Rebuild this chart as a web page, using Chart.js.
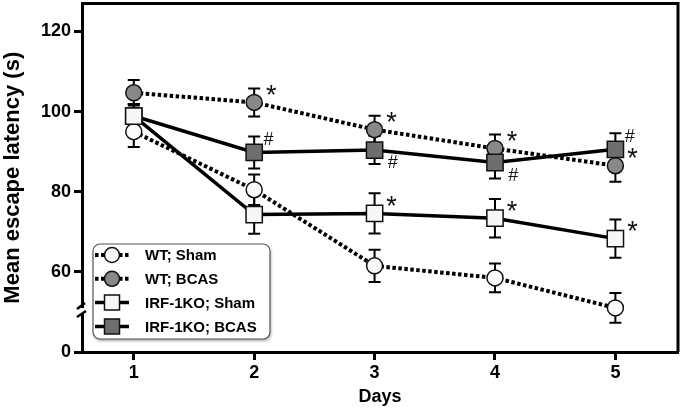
<!DOCTYPE html>
<html>
<head>
<meta charset="utf-8">
<script src="https://cdn.jsdelivr.net/npm/chart.js@4/dist/chart.umd.min.js"></script>
<style>
  body { margin: 0; background: #fff; }
  #chart { display: block; }
</style>
</head>
<body>
<canvas id="chart" width="685" height="410"></canvas>
<script>
// days on the x axis
const days = [1, 2, 3, 4, 5];

// mean escape latency (s) and SEM per group
const wtSham = [95.0, 80.5, 61.5, 58.5, 51.0];
const wtShamSem = [3.8, 3.8, 4.0, 3.6, 3.7];
const wtBcas = [104.7, 102.3, 95.5, 90.8, 86.5];
const wtBcasSem = [3.2, 3.5, 3.5, 3.5, 4.0];
const koSham = [98.9, 74.3, 74.6, 73.4, 68.3];
const koShamSem = [3.0, 4.8, 5.0, 4.8, 4.8];
const koBcas = [98.9, 89.8, 90.4, 87.3, 90.6];
const koBcasSem = [3.0, 4.0, 3.5, 4.0, 4.0];

// significance marks next to points
const wtBcasSig = ['', '*', '*', '*', '*'];
const koShamSig = ['', '', '*', '*', '*'];
const koBcasSig = ['', '#', '#', '#', '#'];
const koBcasSigSide = ['', 'up', 'down', 'down', 'up'];

// y axis is broken: the bottom tick (drawn at 40) reads 0
const yTicks = [40, 60, 80, 100, 120];
const yTickLabels = ['0', '60', '80', '100', '120'];

const FONT = '"Liberation Sans", Arial, sans-serif';

function pts(values) {
    return values.map((v, i) => ({ x: days[i], y: v }));
}

const datasets = [
    {
        label: 'WT; Sham', data: pts(wtSham), sem: wtShamSem, order: 4,
        borderColor: '#000', borderWidth: 4, borderDash: [3.5, 2.5],
        pointStyle: 'circle', pointRadius: 8, pointBorderWidth: 1.5,
        pointBackgroundColor: '#fafafa', pointBorderColor: '#111'
    },
    {
        label: 'WT; BCAS', data: pts(wtBcas), sem: wtBcasSem, sig: wtBcasSig, order: 3,
        borderColor: '#000', borderWidth: 4, borderDash: [3.5, 2.5],
        pointStyle: 'circle', pointRadius: 8, pointBorderWidth: 1.5,
        pointBackgroundColor: '#888888', pointBorderColor: '#111'
    },
    {
        label: 'IRF-1KO; Sham', data: pts(koSham), sem: koShamSem, sig: koShamSig, order: 1,
        borderColor: '#000', borderWidth: 3.5,
        pointStyle: 'rect', pointRadius: 11.5, pointBorderWidth: 1.5,
        pointBackgroundColor: '#f7f7f7', pointBorderColor: '#111'
    },
    {
        label: 'IRF-1KO; BCAS', data: pts(koBcas), sem: koBcasSem, sig: koBcasSig, sigSide: koBcasSigSide, order: 2,
        borderColor: '#000', borderWidth: 3.5,
        pointStyle: 'rect', pointRadius: 11.5, pointBorderWidth: 1.5,
        pointBackgroundColor: '#6e6e6e', pointBorderColor: '#111'
    }
];
datasets.forEach(d => { d.tension = 0; d.fill = false; });

// error bars, drawn under the lines and markers
const errorBars = {
    id: 'errorBars',
    beforeDatasetsDraw(chart) {
        const ctx = chart.ctx;
        const y = chart.scales.y;
        ctx.save();
        ctx.strokeStyle = '#000';
        ctx.lineWidth = 2;
        chart.data.datasets.forEach((ds, di) => {
            const meta = chart.getDatasetMeta(di);
            meta.data.forEach((pt, i) => {
                const v = ds.data[i].y, e = ds.sem[i];
                const top = y.getPixelForValue(v + e);
                const bot = y.getPixelForValue(v - e);
                ctx.beginPath();
                ctx.moveTo(pt.x, top); ctx.lineTo(pt.x, bot);
                ctx.moveTo(pt.x - 6, top); ctx.lineTo(pt.x + 6, top);
                ctx.moveTo(pt.x - 6, bot); ctx.lineTo(pt.x + 6, bot);
                ctx.stroke();
            });
        });
        ctx.restore();
    }
};

// frame, axis break, significance marks and the inset legend
const decorations = {
    id: 'decorations',
    afterDraw(chart) {
        const ctx = chart.ctx;
        const a = chart.chartArea;
        ctx.save();

        // box around the plot
        ctx.strokeStyle = '#000';
        ctx.lineWidth = 3;
        ctx.beginPath();
        ctx.moveTo(a.left, a.top); ctx.lineTo(a.right, a.top); ctx.lineTo(a.right, a.bottom);
        ctx.stroke();

        // axis break on the y axis
        const by = 311;
        ctx.fillStyle = '#fff';
        ctx.fillRect(a.left - 3, by - 3, 6, 6);
        ctx.lineWidth = 2.5;
        ctx.beginPath();
        ctx.moveTo(a.left - 5, by - 2); ctx.lineTo(a.left + 3, by - 8);
        ctx.moveTo(a.left - 5, by + 6); ctx.lineTo(a.left + 4, by);
        ctx.stroke();

        // significance marks
        ctx.fillStyle = '#111';
        ctx.textAlign = 'center';
        ctx.textBaseline = 'middle';
        chart.data.datasets.forEach((ds, di) => {
            if (!ds.sig) return;
            const meta = chart.getDatasetMeta(di);
            meta.data.forEach((pt, i) => {
                const s = ds.sig[i];
                if (!s) return;
                if (s === '*') {
                    ctx.font = '27px ' + FONT;
                    ctx.fillText('*', pt.x + 17, pt.y - 6);
                } else {
                    ctx.font = 'italic 18px ' + FONT;
                    const down = ds.sigSide && ds.sigSide[i] === 'down';
                    ctx.fillText('#', pt.x + (down ? 18 : 14), pt.y + (down ? 13 : -12));
                }
            });
        });

        // legend box
        const lx = a.left + 11, ly = a.bottom - 108, lw = 177, lh = 95;
        ctx.save();
        ctx.shadowColor = 'rgba(0,0,0,0.35)';
        ctx.shadowBlur = 3;
        ctx.shadowOffsetX = 1;
        ctx.shadowOffsetY = 2;
        ctx.fillStyle = '#fff';
        ctx.beginPath();
        ctx.roundRect(lx, ly, lw, lh, 7);
        ctx.fill();
        ctx.restore();
        ctx.strokeStyle = '#555';
        ctx.lineWidth = 1.2;
        ctx.beginPath();
        ctx.roundRect(lx, ly, lw, lh, 7);
        ctx.stroke();

        chart.data.datasets.forEach((ds, i) => {
            const cy = ly + 11 + i * 23.8;
            const mx = lx + 19;
            ctx.strokeStyle = '#000';
            ctx.lineWidth = ds.borderDash ? 4 : 3.5;
            ctx.setLineDash(ds.borderDash || []);
            ctx.beginPath();
            ctx.moveTo(lx + 2, cy); ctx.lineTo(lx + 36, cy);
            ctx.stroke();
            ctx.setLineDash([]);
            ctx.fillStyle = ds.pointBackgroundColor;
            ctx.strokeStyle = '#111';
            ctx.lineWidth = 1.5;
            ctx.beginPath();
            if (ds.pointStyle === 'circle') ctx.arc(mx, cy, 7.5, 0, Math.PI * 2);
            else ctx.rect(mx - 7.5, cy - 7.5, 15, 15);
            ctx.fill();
            ctx.stroke();
            ctx.fillStyle = '#000';
            ctx.font = 'bold 15px ' + FONT;
            ctx.textAlign = 'left';
            ctx.textBaseline = 'middle';
            ctx.fillText(ds.label, lx + 52, cy + 1);
        });

        ctx.restore();
    }
};

new Chart(document.getElementById('chart'), {
    type: 'line',
    data: { datasets: datasets },
    options: {
        responsive: false,
        animation: false,
        layout: { autoPadding: false, padding: { top: 3, right: 7, left: 0, bottom: 0 } },
        plugins: { legend: { display: false }, tooltip: { enabled: false } },
        scales: {
            x: {
                type: 'linear', min: 0.57, max: 5.52,
                afterBuildTicks: s => { s.ticks = days.map(v => ({ value: v })); },
                afterFit: s => { s.height = 58; },
                border: { display: true, color: '#000', width: 3 },
                grid: { drawOnChartArea: false, drawTicks: true, tickLength: 8, tickWidth: 3, tickColor: '#000' },
                ticks: { color: '#000', font: { size: 18, weight: 'bold', family: FONT }, padding: 2, maxRotation: 0 },
                title: { display: true, text: 'Days', color: '#000', font: { size: 18, weight: 'bold', family: FONT }, padding: { top: 0, bottom: 2 } }
            },
            y: {
                type: 'linear', min: 40, max: 127,
                afterBuildTicks: s => { s.ticks = yTicks.map(v => ({ value: v })); },
                afterFit: s => { s.width = 82; },
                border: { display: true, color: '#000', width: 3 },
                grid: { drawOnChartArea: false, drawTicks: true, tickLength: 8, tickWidth: 3, tickColor: '#000' },
                ticks: {
                    color: '#000', font: { size: 18, weight: 'bold', family: FONT, lineHeight: 0.05 }, padding: 3,
                    callback: v => yTickLabels[yTicks.indexOf(v)]
                },
                title: { display: true, text: 'Mean escape latency (s)', color: '#000', font: { size: 22, weight: 'bold', family: FONT }, padding: { top: 0, bottom: 0 } }
            }
        }
    },
    plugins: [errorBars, decorations]
});
</script>
</body>
</html>
